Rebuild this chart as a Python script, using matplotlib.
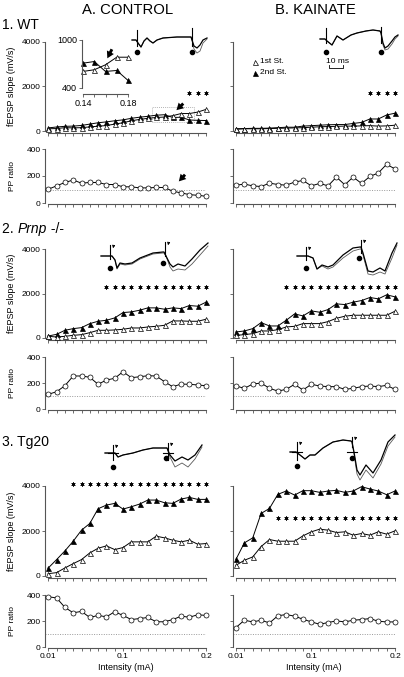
import numpy as np
import matplotlib.pyplot as plt

plt.rcParams['font.family'] = ['Liberation Sans', 'DejaVu Sans']

W, H = 404, 677

# stimulation intensities (mA)
intensity = [0.01, 0.02, 0.03, 0.04, 0.05, 0.06, 0.07, 0.08, 0.09, 0.10,
             0.11, 0.12, 0.13, 0.14, 0.15, 0.16, 0.17, 0.18, 0.19, 0.20]

# fEPSP slope (mV/s), 1st and 2nd stimulus, and PP ratio (%)
wt_ctrl_1st = [100, 110, 150, 140, 150, 185, 215, 245, 310, 370,
               460, 520, 570, 607, 628, 690, 785, 785, 850, 970]
wt_ctrl_2nd = [140, 180, 210, 220, 250, 310, 370, 410, 460, 500,
               570, 620, 660, 710, 731, 607, 619, 495, 480, 470]
wt_ctrl_pp = [102, 127, 152, 170, 147, 152, 152, 137, 137, 120,
              120, 112, 112, 115, 115, 87, 75, 62, 57, 50]

wt_kai_1st = [80, 100, 100, 100, 110, 120, 130, 140, 150, 170,
              190, 200, 210, 220, 220, 230, 240, 220, 230, 260]
wt_kai_2nd = [100, 110, 120, 120, 130, 150, 170, 170, 220, 240,
              260, 280, 290, 290, 340, 385, 540, 540, 720, 800]
wt_kai_pp = [132, 140, 127, 122, 147, 137, 132, 155, 167, 127,
             145, 127, 192, 135, 192, 145, 197, 222, 287, 252]

prnp_ctrl_1st = [75, 45, 75, 120, 150, 240, 346, 346, 361, 391,
                 451, 451, 496, 526, 571, 767, 767, 752, 752, 842]
prnp_ctrl_2nd = [90, 165, 346, 421, 466, 647, 752, 797, 902, 1143,
                 1173, 1248, 1354, 1354, 1293, 1354, 1323, 1459, 1429, 1609]
prnp_ctrl_pp = [113, 133, 179, 254, 254, 244, 190, 223, 236, 287,
                241, 248, 256, 254, 210, 171, 192, 190, 185, 179]

prnp_kai_1st = [120, 150, 196, 316, 316, 376, 496, 526, 647, 647,
                647, 737, 887, 978, 1023, 1023, 1023, 1023, 1023, 1203]
prnp_kai_2nd = [271, 316, 421, 692, 541, 541, 797, 1083, 993, 1218,
                1158, 1278, 1534, 1504, 1609, 1684, 1820, 1760, 1940, 1850]
prnp_kai_pp = [177, 159, 192, 200, 159, 138, 151, 190, 146, 190,
               177, 172, 172, 151, 159, 172, 177, 172, 182, 151]

tg20_ctrl_1st = [104, 150, 357, 550, 729, 1026, 1234, 1338, 1175, 1264,
                 1517, 1517, 1517, 1770, 1695, 1591, 1517, 1591, 1413, 1442]
tg20_ctrl_2nd = [357, 729, 1115, 1546, 2037, 2334, 2989, 3152, 3227, 2974,
                 3078, 3197, 3375, 3375, 3256, 3227, 3420, 3494, 3405, 3405]
tg20_ctrl_pp = [387, 377, 305, 263, 274, 227, 243, 232, 271, 243,
                211, 219, 227, 194, 194, 211, 237, 229, 248, 243]

tg20_kai_1st = [476, 699, 848, 1309, 1621, 1546, 1546, 1546, 1784, 1963,
                2082, 2037, 1933, 1963, 1814, 1889, 1814, 1963, 1859, 2007]
tg20_kai_2nd = [743, 1472, 1695, 2780, 3003, 3628, 3777, 3598, 3792, 3792,
                3717, 3777, 3807, 3717, 3777, 3970, 3866, 3777, 3613, 3777]
tg20_kai_pp = [150, 206, 193, 206, 185, 240, 250, 237, 214, 193,
               175, 188, 201, 193, 206, 211, 219, 198, 193, 193]

# significant intensities (asterisks) and the level they are drawn at
wt_ctrl_sig, wt_ctrl_sig_y = intensity[17:], 1700
wt_kai_sig, wt_kai_sig_y = intensity[16:], 1700
prnp_ctrl_sig, prnp_ctrl_sig_y = intensity[7:], 2300
prnp_kai_sig, prnp_kai_sig_y = intensity[6:], 2300
tg20_ctrl_sig, tg20_ctrl_sig_y = intensity[3:], 4100
tg20_kai_sig, tg20_kai_sig_y = intensity[5:], 2600

# example traces (sample position / amplitude, pixel units, stim at 0 and 55)
wt_ctrl_tr_t = [-5, -1, 1, 4, 7, 10, 13, 16, 20, 26, 40, 54, 55, 57, 60, 63, 66, 70]
wt_ctrl_tr_a = [0, 0, -3, -7, -1, 2, -1, -3, 0, 2, 3, 3, 0, -6, -8, -5, 0, 2]
wt_ctrl_tr_b = [0, 0, -3, -7, -1, 2, -1, -3, 0, 2, 3, 3, 0, -9, -13, -11, -3, 1]

wt_kai_tr_t = [-6, -1, 1, 6, 11, 17, 25, 31, 40, 47, 54, 55, 57, 59, 62, 66, 69, 72]
wt_kai_tr_a = [0, 0, -2, -6, 3, -1, 4, 6, 8, 9, 8, 6, -4, -9, -7, -2, 2, 4]
wt_kai_tr_b = [0, 0, -2, -6, 3, -1, 4, 6, 8, 9, 8, 6, -6, -11, -10, -5, 0, 3]

prnp_ctrl_tr_t = [-9, -1, 2, 5, 7, 10, 15, 22, 30, 43, 53, 54, 56, 60, 63, 68, 75, 82, 90, 98]
prnp_ctrl_tr_a = [0, 0, 0, -4, -12, -7, -8, -7, -2, 3, 4, 4, 0, -8, -11, -8, -10, -3, 6, 13]
prnp_ctrl_tr_b = [0, 0, 0, -4, -13, -8, -9, -8, -3, 2, 3, 3, 0, -11, -15, -13, -14, -8, 1, 10]

prnp_kai_tr_t = [-9, -1, 2, 7, 11, 16, 22, 27, 37, 47, 54, 55, 57, 62, 67, 74, 79, 86, 91]
prnp_kai_tr_a = [0, 0, 0, -2, -13, -9, -11, -9, 1, 8, 9, 9, 3, -15, -16, -12, -15, 3, 13]
prnp_kai_tr_b = [0, 0, 0, -2, -13, -10, -13, -11, -2, 5, 7, 7, 1, -18, -19, -16, -18, -2, 11]

tg20_ctrl_tr_t = [-8, -1, 2, 5, 10, 20, 30, 40, 50, 54, 57, 62, 69, 75, 82, 89]
tg20_ctrl_tr_a = [0, 0, 0, -4, -2, 0, 3, 5, 5, 5, -2, -8, -4, -7, -2, 8]
tg20_ctrl_tr_b = [0, 0, 0, -4, -2, 0, 3, 5, 5, 5, -4, -14, -10, -14, -6, 6]

tg20_kai_tr_t = [-7, -1, 3, 8, 13, 18, 26, 36, 46, 54, 55, 57, 60, 63, 69, 76, 84, 91, 98]
tg20_kai_tr_a = [0, 0, -3, -7, -3, -3, 4, 10, 12, 11, 10, 0, -18, -23, -13, -21, -8, 10, 17]
tg20_kai_tr_b = [0, 0, -3, -7, -3, -3, 4, 10, 12, 11, 10, -2, -22, -28, -18, -26, -12, 6, 15]

XLO, XHI = 0.0065, 0.20
SPINE = '#555555'
MS = 3.6

fig = plt.figure(figsize=(W / 100, H / 100), dpi=100)


def px_axes(left, top, right, bottom):
    return fig.add_axes([left / W, 1 - bottom / H, (right - left) / W, (bottom - top) / H])


def col_extent(x01, x02):
    scale = (x02 - x01) / 0.19
    return x01 - (0.01 - XLO) * scale, x02


def make_axes(col, y0, ytop, ymax, bottom_row=False):
    left, right = col_extent(*col)
    pad = ymax / 40
    bottom = y0 + pad * (y0 - ytop) / ymax
    ax = px_axes(left, ytop, right, bottom)
    ax.set_xlim(XLO, XHI)
    ax.set_ylim(-pad, ymax)
    ax.patch.set_alpha(0)
    for s in ['top', 'right']:
        ax.spines[s].set_visible(False)
    for s in ['left', 'bottom']:
        ax.spines[s].set_color(SPINE)
        ax.spines[s].set_linewidth(0.8)
    ax.spines['left'].set_bounds(0, ymax)
    ax.spines['bottom'].set_bounds(0.01, 0.20)
    ax.set_yticks([0, ymax / 2, ymax])
    ax.set_xticks(intensity)
    if bottom_row:
        ax.set_xticklabels(['0.01' if v == 0.01 else '0.1' if v == 0.10 else
                            '0.2' if v == 0.20 else '' for v in intensity])
    else:
        ax.set_xticklabels([])
    ax.tick_params(direction='out', length=2, width=0.6, color=SPINE,
                   labelsize=6, pad=1.5)
    return ax


def slope_plot(ax, first, second, sig, sig_y):
    ax.plot(intensity, second, color='k', lw=0.7, marker='^', ms=MS,
            mfc='k', mec='k', mew=0.5, clip_on=False, zorder=3)
    ax.plot(intensity, first, color='k', lw=0.7, marker='^', ms=MS,
            mfc='white', mec='k', mew=0.5, clip_on=False, zorder=4)
    ax.plot(sig, [sig_y] * len(sig), ls='none', marker=(6, 2, 0), ms=3,
            mec='k', mew=0.5, clip_on=False)


def pp_plot(ax, pp):
    ax.axhline(100, color='0.6', lw=0.7, ls=(0, (1, 1.5)))
    ax.plot(intensity, pp, color='k', lw=0.7, marker='o', ms=MS,
            mfc='white', mec='k', mew=0.5, clip_on=False, zorder=3)


colA = (48.3, 206.0)
colB = (236.0, 395.0)
rows = [  # (y0, y4000, y0_pp, y400_pp)
    (131, 42, 203, 149),
    (338, 249, 409, 357),
    (576, 486, 647, 595),
]
datasets = [
    ((wt_ctrl_1st, wt_ctrl_2nd, wt_ctrl_sig, wt_ctrl_sig_y, wt_ctrl_pp),
     (wt_kai_1st, wt_kai_2nd, wt_kai_sig, wt_kai_sig_y, wt_kai_pp)),
    ((prnp_ctrl_1st, prnp_ctrl_2nd, prnp_ctrl_sig, prnp_ctrl_sig_y, prnp_ctrl_pp),
     (prnp_kai_1st, prnp_kai_2nd, prnp_kai_sig, prnp_kai_sig_y, prnp_kai_pp)),
    ((tg20_ctrl_1st, tg20_ctrl_2nd, tg20_ctrl_sig, tg20_ctrl_sig_y, tg20_ctrl_pp),
     (tg20_kai_1st, tg20_kai_2nd, tg20_kai_sig, tg20_kai_sig_y, tg20_kai_pp)),
]

axes = {}
for r, ((y0, y4k, p0, p400), pair) in enumerate(zip(rows, datasets)):
    for c, (col, d) in enumerate(zip([colA, colB], pair)):
        first, second, sig, sig_y, pp = d
        ax1 = make_axes(col, y0, y4k, 4000)
        slope_plot(ax1, first, second, sig, sig_y)
        ax2 = make_axes(col, p0, p400, 400, bottom_row=(r == 2))
        pp_plot(ax2, pp)
        if c == 1:
            ax1.set_yticklabels([])
            ax2.set_yticklabels([])
        else:
            ax1.set_yticklabels(['0', '2000', '4000'])
            ax2.set_yticklabels(['0', '200', '400'])
            fig.text(12 / W, 1 - (y0 + y4k) / 2 / H, 'fEPSP slope (mV/s)',
                     rotation=90, ha='center', va='center', fontsize=6.5)
            fig.text(12 / W, 1 - (p0 + p400) / 2 / H, 'PP ratio',
                     rotation=90, ha='center', va='center', fontsize=6)
        if r == 2:
            ax2.set_xlabel('Intensity (mA)', fontsize=6.5, labelpad=2)
        axes[(r, c)] = (ax1, ax2)

arrow_kw = dict(arrowstyle='simple,head_width=0.8,head_length=0.7,tail_width=0.3',
                mutation_scale=7, color='k', lw=0)

# WT control: zoomed region and arrows
axA1, axA2 = axes[(0, 0)]
axA1.add_patch(plt.Rectangle((0.135, 400), 0.05, 680, fill=False, ec='0.6',
                             lw=0.6, ls=(0, (1, 1.5))))
axA1.annotate('', xy=(0.162, 850), xytext=(0.175, 1320), arrowprops=arrow_kw)
axA2.annotate('', xy=(0.165, 145), xytext=(0.177, 225), arrowprops=arrow_kw)

# inset
ins_x = intensity[13:18]
ins = px_axes(82, 40, 128, 94)
ins.set_xlim(0.1391, 0.18)
ins.set_ylim(325, 1000)
ins.patch.set_alpha(0)
for s in ['top', 'right']:
    ins.spines[s].set_visible(False)
for s in ['left', 'bottom']:
    ins.spines[s].set_color(SPINE)
    ins.spines[s].set_linewidth(0.8)
ins.spines['left'].set_bounds(400, 1000)
ins.spines['bottom'].set_bounds(0.14, 0.18)
ins.set_yticks([400, 1000])
ins.set_xticks(ins_x)
ins.set_xticklabels(['0.14', '', '', '', '0.18'])
ins.tick_params(direction='out', length=2, width=0.6, color=SPINE, labelsize=6.5, pad=1.5)
ins.plot(ins_x, wt_ctrl_2nd[13:18], color='k', lw=0.7, marker='^', ms=MS,
         mfc='k', mec='k', mew=0.5, clip_on=False)
ins.plot(ins_x, wt_ctrl_1st[13:18], color='k', lw=0.7, marker='^', ms=MS,
         mfc='white', mec='k', mew=0.5, clip_on=False)
ins.annotate('', xy=(0.1605, 740), xytext=(0.1668, 915), arrowprops=arrow_kw)

# overlay in pixel coordinates for traces and labels
ov = fig.add_axes([0, 0, 1, 1])
ov.set_xlim(0, W)
ov.set_ylim(H, 0)
ov.axis('off')
ov.patch.set_alpha(0)


def draw_trace(x0, y0, t, a, b, art1, art2, dots, cross=False, hooks=False):
    t = np.array(t)
    ov.plot(x0 + t, y0 - np.array(b), color='0.35', lw=0.6)
    ov.plot(x0 + t, y0 - np.array(a), color='k', lw=0.9)
    for dx, (hi, lo) in zip([0, 55], [art1, art2]):
        ov.plot([x0 + dx, x0 + dx], [y0 - hi, y0 - lo], color='k', lw=0.8)
        if cross:
            ov.plot([x0 + dx - 5, x0 + dx + 5], [y0, y0], color='k', lw=0.8)
        if hooks:
            ov.annotate('', xy=(x0 + dx + 3, y0 - hi + 6), xytext=(x0 + dx + 7, y0 - hi - 1),
                        arrowprops=dict(arrowstyle='-|>', lw=0.5, color='k',
                                        mutation_scale=4,
                                        connectionstyle='arc3,rad=0.4'))
    for dx, dv in dots:
        ov.plot(x0 + dx, y0 - dv, 'o', ms=3, color='k')


draw_trace(137, 40, wt_ctrl_tr_t, wt_ctrl_tr_a, wt_ctrl_tr_b,
           (10, -6), (12, -6), [(0, -12), (55, -12)])
draw_trace(326, 39, wt_kai_tr_t, wt_kai_tr_a, wt_kai_tr_b,
           (11, -4), (12, -4), [(0, -13), (55, -13)])
draw_trace(110, 256, prnp_ctrl_tr_t, prnp_ctrl_tr_a, prnp_ctrl_tr_b,
           (11, -3), (14, 0), [(0, -12), (53, -7)], hooks=True)
draw_trace(306, 256, prnp_kai_tr_t, prnp_kai_tr_a, prnp_kai_tr_b,
           (9, -4), (16, 3), [(0, -12), (53, -2)], hooks=True)
draw_trace(113, 453, tg20_ctrl_tr_t, tg20_ctrl_tr_a, tg20_ctrl_tr_b,
           (8, -7), (10, -7), [(0, -14), (53, -5)], cross=True, hooks=True)
draw_trace(297, 452, tg20_kai_tr_t, tg20_kai_tr_a, tg20_kai_tr_b,
           (10, -8), (15, 5), [(0, -14), (55, -6)], cross=True, hooks=True)

# legend and scale bar (WT kainate)
ov.plot(255, 61.7, '^', ms=MS, mfc='white', mec='k', mew=0.5)
ov.plot(255, 72.5, '^', ms=MS, mfc='k', mec='k', mew=0.5)
ov.text(260, 61.7, '1st St.', fontsize=6, va='center', ha='left')
ov.text(260, 72.5, '2nd St.', fontsize=6, va='center', ha='left')
ov.text(337, 61.5, '10 ms', fontsize=6, va='center', ha='center')
ov.plot([329, 329, 343, 343], [64.5, 67.5, 67.5, 64.5], color='k', lw=0.6)

# titles
ov.text(128, 10, 'A. CONTROL', fontsize=10.7, ha='center', va='center')
ov.text(315, 10, 'B. KAINATE', fontsize=10.7, ha='center', va='center')
ov.text(2, 25, '1. WT', fontsize=10, ha='left', va='center')
t2 = ov.text(2, 229, '2.\u00a0', fontsize=10, ha='left', va='center')
t3 = ov.annotate('Prnp', xy=(1, 0), xycoords=t2, va='bottom', ha='left',
                 fontsize=10, style='italic')
ov.annotate('\u00a0-/-', xy=(1, 0), xycoords=t3, va='bottom', ha='left', fontsize=10)
ov.text(2, 442, '3. Tg20', fontsize=10, ha='left', va='center')

fig.savefig('out.png', dpi=100)
